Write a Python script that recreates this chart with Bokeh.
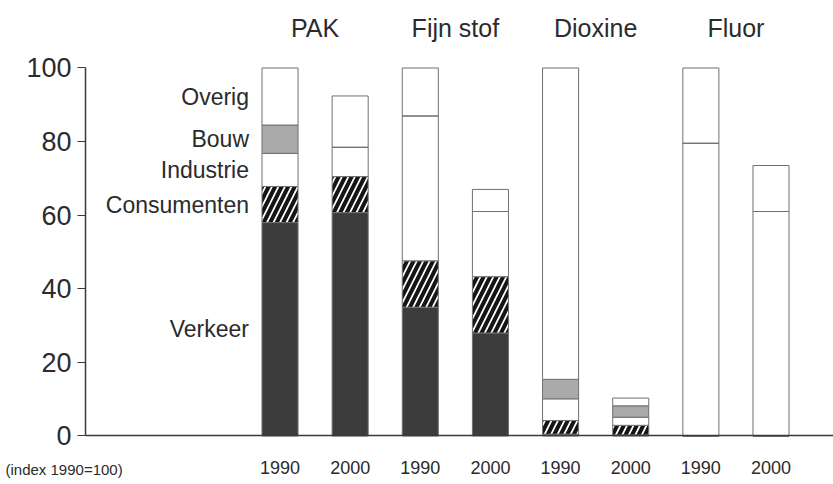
from bokeh.plotting import figure
from bokeh.models import Range1d, FixedTicker, ColumnDataSource
from bokeh.core.properties import value
from bokeh.embed import file_html
from bokeh.resources import INLINE

# ---- data ----
groups = ["PAK", "Fijn stof", "Dioxine", "Fluor"]
years = ["1990", "2000"]
sources = ["Verkeer", "Consumenten", "Industrie", "Bouw", "Overig"]

verkeer     = [58.0, 60.7, 35.0, 28.0, 0.5, 0.3, 0.0, 0.0]
consumenten = [9.8, 9.8, 12.6, 15.3, 3.7, 2.6, 0.0, 0.0]
industrie   = [9.0, 8.0, 39.4, 17.7, 5.9, 2.2, 79.6, 61.0]
bouw        = [7.7, 0.0, 0.0, 0.0, 5.3, 3.1, 0.0, 0.0]
overig      = [15.5, 13.9, 13.0, 6.0, 84.6, 2.1, 20.4, 12.5]
y_ticks = [0, 20, 40, 60, 80, 100]
index_note = "(index 1990=100)"

# ---- layout helpers ----
x_pos = [g * 2 + k for g in range(len(groups)) for k in range(len(years))]
x_labels = {x: years[i % 2] for i, x in enumerate(x_pos)}

src = ColumnDataSource(dict(x=x_pos, Verkeer=verkeer, Consumenten=consumenten,
                            Industrie=industrie, Bouw=bouw, Overig=overig))

TXT = "#2b2b2b"
AX = "#3a3a3a"
SANS = "Liberation Sans"

X0, X1 = -3.985, 7.891     # frame extent in x
AXIS_X = -2.773            # where the value axis stands
Y0, Y1 = -13.18, 118.34

p = figure(width=833, height=484, output_backend="svg", toolbar_location=None,
           x_range=Range1d(X0, X1), y_range=Range1d(Y0, Y1),
           min_border_left=0, min_border_right=0, min_border_top=0,
           min_border_bottom=0)
p.outline_line_color = None
p.grid.visible = False
p.background_fill_color = "white"
p.border_fill_color = "white"

BW = 0.514
p.vbar_stack(sources, x="x", width=BW, source=src,
             fill_color=["#3c3c3c", "white", "white", "#aaaaaa", "white"],
             line_color="#707070", line_width=1,
             hatch_pattern=[" ", "/", " ", " ", " "],
             hatch_color="#151515", hatch_weight=4, hatch_scale=13)

# y axis
ya = p.yaxis[0]
ya.fixed_location = AXIS_X
ya.ticker = FixedTicker(ticks=y_ticks)
ya.bounds = (0, 100)
ya.axis_line_color = AX
ya.axis_line_width = 1.5
ya.major_tick_line_color = AX
ya.major_tick_line_width = 1.2
ya.major_tick_out = 8
ya.major_tick_in = 0
ya.minor_tick_line_color = None
ya.major_label_text_font = SANS
ya.major_label_text_font_size = "27px"
ya.major_label_text_color = TXT
ya.major_label_standoff = 6

# x axis
xa = p.xaxis[0]
xa.fixed_location = 0
xa.bounds = (AXIS_X, X1)
xa.ticker = FixedTicker(ticks=x_pos)
xa.major_label_overrides = x_labels
xa.axis_line_color = AX
xa.axis_line_width = 1.5
xa.major_tick_line_color = None
xa.major_tick_out = 0
xa.major_tick_in = 0
xa.minor_tick_line_color = None
xa.major_label_text_font = SANS
xa.major_label_text_font_size = "18px"
xa.major_label_text_color = TXT
xa.major_label_standoff = 25

# group titles at top
p.text(x=[g * 2 + 0.5 for g in range(len(groups))], y=[111.0] * len(groups),
       text=groups, text_font=value(SANS), text_font_size="25px",
       text_color=TXT, text_align="center", text_baseline="middle")

# segment labels next to the first bar, at mid-height of each segment
first = [verkeer[0], consumenten[0], industrie[0], bouw[0], overig[0]]
mids, acc = [], 0.0
for v in first:
    mids.append(acc + v / 2)
    acc += v
p.text(x=[x_pos[0] - BW / 2] * len(sources), y=mids, text=sources,
       x_offset=-13, text_font=value(SANS), text_font_size="23px",
       text_color=TXT, text_align="right", text_baseline="middle")

# index note, left under the axis
p.text(x=[X0], y=[0], text=[index_note], x_offset=5, y_offset=34,
       text_font=value(SANS), text_font_size="15px", text_color=TXT,
       text_align="left", text_baseline="middle")

open("out.html", "w").write(file_html(p, INLINE))
